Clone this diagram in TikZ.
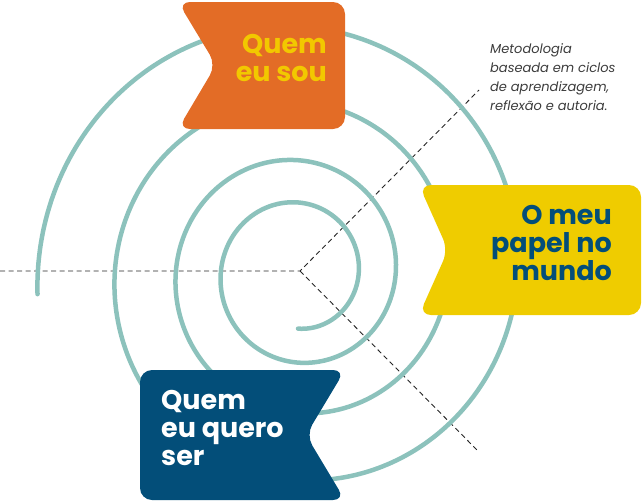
\documentclass[tikz,border=0pt]{standalone}
\usepackage{fontspec}
\setmainfont{Poppins}
\definecolor{spiral}{RGB}{140,194,188}
\definecolor{orangeF}{RGB}{227,108,38}
\definecolor{yellowF}{RGB}{239,204,0}
\definecolor{yellowT}{RGB}{242,200,0}
\definecolor{blueF}{RGB}{3,78,121}
\definecolor{grayT}{RGB}{60,60,60}
\begin{document}
\begin{tikzpicture}[x=1pt,y=-1pt,
  flag/.style={rounded corners=12pt},
  guide/.style={dashed,dash pattern=on 5pt off 3.5pt,line width=0.9pt,draw=black!85},
  lbl/.style={font=\fontsize{27}{28}\selectfont\bfseries,inner sep=0pt}]
\useasboundingbox (0,0) rectangle (643,501);
\coordinate (c) at (300,271);
\coordinate (w) at (0,271);
\coordinate (ne) at (479,90);
\coordinate (se) at (479,452);
\draw[guide] (w) -- (c) -- (ne);
\draw[guide] (c) -- (se);
\draw[spiral,line width=4.5pt,line cap=round] plot[domain=0:3.765,samples=400,variable=\t,smooth]
  ({298+(54+25*\t+8*\t*\t)*cos(-90+360*\t)},{273-1.03*(54+25*\t+8*\t*\t)*sin(-90+360*\t)});
\fill[orangeF,flag] (178,2) -- (345,2) -- (345,129) -- (178,129) -- (216,65) -- cycle;
\fill[yellowF,flag] (419,185) -- (641,185) -- (641,315) -- (419,315) -- (448,250) -- cycle;
\fill[blueF,flag] (140,370) -- (345,370) -- (306,435) -- (345,500) -- (140,500) -- cycle;
\node[lbl,text=yellowT,align=right,anchor=north east] (q1) at (327,34) {Quem\\eu sou};
\node[lbl,text=blueF,align=right,anchor=north east] (q2) at (612,205) {O meu\\papel no\\mundo};
\node[lbl,text=white,align=left,anchor=north west] (q3) at (161,390) {Quem\\eu quero\\ser};
\node[font=\fontsize{13}{19}\selectfont\itshape,text=grayT,align=left,anchor=north west,inner sep=0pt] (note) at (490,43)
  {Metodologia\\baseada em ciclos\\de aprendizagem,\\reflexão e autoria.};
\end{tikzpicture}
\end{document}
